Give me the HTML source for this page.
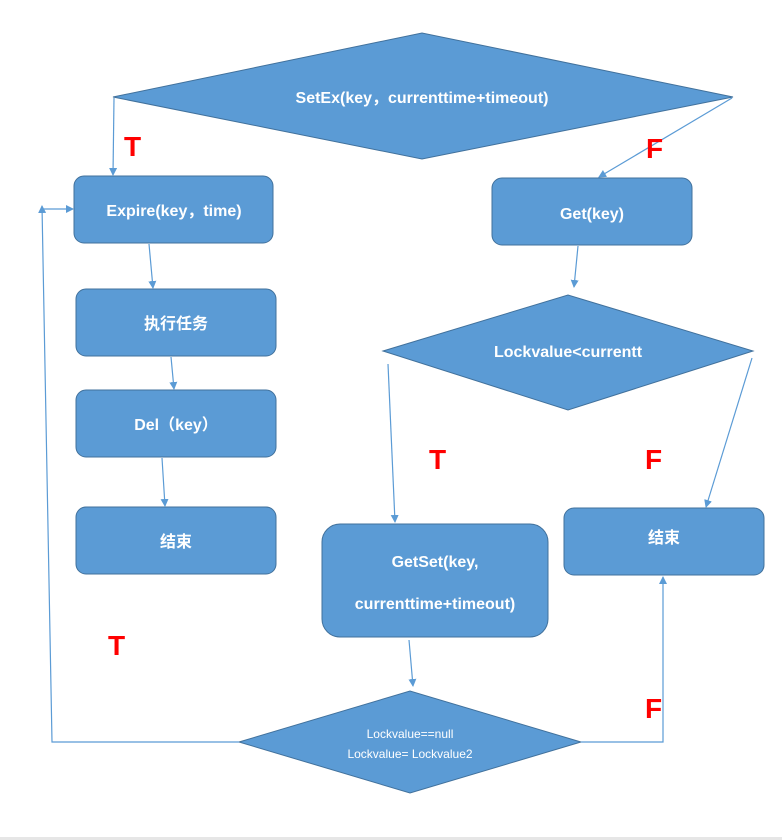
<!DOCTYPE html>
<html><head><meta charset="utf-8"><style>
html,body{margin:0;padding:0;background:#fff;}
svg{display:block;}
text{font-family:"Liberation Sans","Noto Sans CJK SC",sans-serif;fill:#fff;}
.b{font-weight:bold;font-size:16px;}
.r{fill:#ff0000;font-weight:bold;font-size:28px;}
</style></head><body>
<svg width="782" height="840" viewBox="0 0 782 840" xmlns="http://www.w3.org/2000/svg">
<defs>
<marker id="a" markerWidth="8" markerHeight="8" refX="7" refY="4" orient="auto" markerUnits="userSpaceOnUse">
<path d="M0,0 L8,4 L0,8 z" fill="#5b9bd5"/></marker>
</defs>
<rect x="0" y="837" width="782" height="3" fill="#e6e6e6"/>
<g fill="#5b9bd5" stroke="#41719c" stroke-width="1">
<polygon points="113,97 422,33 733,97 422,159"/>
<rect x="74" y="176" width="199" height="67" rx="10"/>
<rect x="492" y="178" width="200" height="67" rx="10"/>
<rect x="76" y="289" width="200" height="67" rx="10"/>
<rect x="76" y="390" width="200" height="67" rx="10"/>
<rect x="76" y="507" width="200" height="67" rx="10"/>
<polygon points="383,351 568,295 753,351 568,410"/>
<rect x="322" y="524" width="226" height="113" rx="18"/>
<rect x="564" y="508" width="200" height="67" rx="10"/>
<polygon points="239,742 410,691 581,742 410,793"/>
</g>
<g stroke="#5b9bd5" stroke-width="1.2" fill="none">
<line x1="114" y1="98" x2="113" y2="175" marker-end="url(#a)"/>
<line x1="732" y1="98" x2="599" y2="177" marker-end="url(#a)"/>
<line x1="149" y1="244" x2="153" y2="288" marker-end="url(#a)"/>
<line x1="171" y1="357" x2="174" y2="389" marker-end="url(#a)"/>
<line x1="162" y1="458" x2="165" y2="506" marker-end="url(#a)"/>
<line x1="578" y1="246" x2="574" y2="287" marker-end="url(#a)"/>
<line x1="388" y1="364" x2="395" y2="522" marker-end="url(#a)"/>
<line x1="752" y1="358" x2="706" y2="507" marker-end="url(#a)"/>
<line x1="409" y1="640" x2="413" y2="686" marker-end="url(#a)"/>
<polyline points="239,742 52,742 42,206" marker-end="url(#a)"/>
<line x1="42" y1="209" x2="73" y2="209" marker-end="url(#a)"/>
<polyline points="581,742 663,742 663,577" marker-end="url(#a)"/>
</g>
<text class="b" x="422" y="103" text-anchor="middle">SetEx(key，currenttime+timeout)</text>
<text class="b" x="174" y="216" text-anchor="middle">Expire(key，time)</text>
<text class="b" x="592" y="219" text-anchor="middle">Get(key)</text>
<text class="b" x="176" y="329" text-anchor="middle">执行任务</text>
<text class="b" x="176" y="430" text-anchor="middle">Del（key）</text>
<text class="b" x="176" y="547" text-anchor="middle">结束</text>
<text class="b" x="568" y="357" text-anchor="middle">Lockvalue&lt;currentt</text>
<text class="b" x="435" y="567" text-anchor="middle">GetSet(key,</text>
<text class="b" x="435" y="609" text-anchor="middle">currenttime+timeout)</text>
<text class="b" x="664" y="543" text-anchor="middle">结束</text>
<text x="410" y="738" text-anchor="middle" font-size="12">Lockvalue==null</text>
<text x="410" y="758" text-anchor="middle" font-size="12">Lockvalue= Lockvalue2</text>
<text class="r" x="124" y="156">T</text>
<text class="r" x="646" y="158">F</text>
<text class="r" x="429" y="469">T</text>
<text class="r" x="645" y="469">F</text>
<text class="r" x="108" y="655">T</text>
<text class="r" x="645" y="718">F</text>
</svg>
</body></html>
